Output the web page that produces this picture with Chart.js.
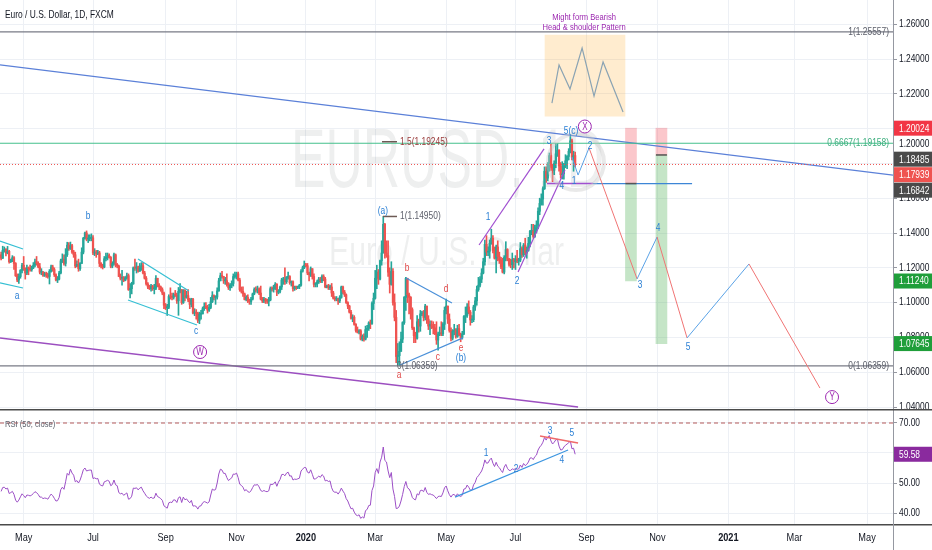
<!DOCTYPE html>
<html>
<head>
<meta charset="utf-8">
<title>EURUSD 1D</title>
<script src="https://cdn.jsdelivr.net/npm/chart.js@4.4.0/dist/chart.umd.min.js"></script>
<style>
  html, body { margin: 0; padding: 0; background: #fff; }
  #wrap { position: relative; width: 932px; height: 550px; overflow: hidden; }
  canvas { position: absolute; left: 0; }
  #main { top: 0; }
  #rsi { top: 409px; }
</style>
</head>
<body>
<div id="wrap">
  <canvas id="main" width="932" height="409" style="width:932px;height:409px"></canvas>
  <canvas id="rsi" width="932" height="141" style="width:932px;height:141px"></canvas>
</div>
<script>
// ---------- data (one bar per trading day, bar 0 = 11 Apr 2019, last bar = 21 Aug 2020) ----------
const monthBars = [14, 57, 102, 146, 189, 232, 276, 319, 363, 407, 451, 492, 537];
const monthLabels = ['May', 'Jul', 'Sep', 'Nov', '2020', 'Mar', 'May', 'Jul', 'Sep', 'Nov', '2021', 'Mar', 'May'];
const priceTicks = [1.04, 1.06, 1.08, 1.10, 1.12, 1.14, 1.16, 1.18, 1.20, 1.22, 1.24, 1.26];
const rsiTicks = [40, 50, 60, 70];

const firstOpen = 1.1275;
const closes = [
  1.1255,1.1300,1.1305,1.1285,1.1295,1.1235,1.1245,1.1258,1.1225,1.1155,1.1130,1.1150,1.1185,1.1215,
  1.1195,1.1170,1.1200,1.1195,1.1190,1.1200,1.1215,1.1235,1.1225,1.1205,1.1175,1.1175,1.1157,1.1165,1.1160,1.1150,1.1180,1.1205,1.1190,1.1160,1.1130,1.1135,1.1170,
  1.1240,1.1250,1.1225,1.1275,1.1330,1.1310,1.1327,1.1290,1.1275,1.1210,1.1220,1.1195,1.1225,1.1290,1.1370,1.1400,1.1365,1.1368,1.1370,1.1372,
  1.1285,1.1290,1.1282,1.1286,1.1225,1.1210,1.1205,1.1252,1.1260,1.1270,1.1260,1.1210,1.1225,1.1275,1.1220,1.1210,1.1150,1.1140,1.1145,1.1128,1.1142,1.1155,1.1075,
  1.1080,1.1108,1.1200,1.1198,1.1205,1.1180,1.1200,1.1212,1.1170,1.1140,1.1107,1.1090,1.1080,1.1095,1.1080,1.1082,1.1140,1.1100,1.1090,1.1075,1.1055,1.0985,
  1.0970,1.0973,1.1035,1.1032,1.1030,1.1045,1.1042,1.1010,1.1065,1.1075,1.1000,1.1070,1.1030,1.1040,1.1015,1.0990,1.1020,1.0940,1.0942,1.0938,1.0898,
  1.0933,1.0935,1.0965,1.0978,1.0970,1.0957,1.0972,1.1005,1.1040,1.1030,1.1032,1.1067,1.1125,1.1155,1.1150,1.1125,1.1126,1.1105,1.1085,1.1100,1.1110,1.1150,1.1152,
  1.1165,1.1130,1.1075,1.1065,1.1050,1.1018,1.1030,1.1010,1.1005,1.1020,1.1050,1.1075,1.1072,1.1078,1.1055,1.1020,1.1010,1.1020,1.1010,1.1008,1.1015,
  1.1080,1.1078,1.1082,1.1105,1.1060,1.1065,1.1090,1.1130,1.1132,1.1120,1.1145,1.1150,1.1115,1.1120,1.1080,1.1090,1.1088,1.1092,1.1100,1.1180,1.1200,1.1215,
  1.1212,1.1170,1.1160,1.1195,1.1150,1.1105,1.1107,1.1120,1.1135,1.1125,1.1150,1.1135,1.1090,1.1095,1.1085,1.1090,1.1055,1.1025,1.1020,1.1022,1.1010,1.1030,1.1090,
  1.1060,1.1045,1.1000,1.0980,1.0945,1.0910,1.0915,1.0875,1.0840,1.0830,1.0838,1.0790,1.0805,1.0790,1.0845,1.0852,1.0883,1.0880,1.0995,1.1025,
  1.1140,1.1175,1.1135,1.1240,1.1285,1.1450,1.1285,1.1270,1.1175,1.1105,1.1180,1.1000,1.0915,1.0690,1.0695,1.0720,1.0790,1.0885,1.1030,1.1140,1.1045,1.1030,
  1.0960,1.0855,1.0810,1.0795,1.0890,1.0865,1.0935,1.0940,1.0915,1.0980,1.0905,1.0865,1.0875,1.0860,1.0855,1.0820,1.0785,1.0820,1.0825,1.0820,1.0875,1.0955,
  1.0980,1.0905,1.0840,1.0795,1.0835,1.0840,1.0805,1.0850,1.0815,1.0800,1.0820,1.0920,1.0925,1.0975,1.0945,1.0900,1.0902,1.0975,1.1010,1.1075,1.1100,
  1.1135,1.1170,1.1235,1.1335,1.1290,1.1295,1.1340,1.1370,1.1300,1.1255,1.1320,1.1265,1.1245,1.1205,1.1175,1.1260,1.1305,1.1250,1.1220,1.1218,1.1245,1.1235,
  1.1250,1.1240,1.1245,1.1310,1.1275,1.1330,1.1285,1.1300,1.1340,1.1410,1.1412,1.1380,1.1430,1.1445,1.1525,1.1570,1.1595,1.1655,1.1755,1.1715,1.1790,1.1845,1.1775,
  1.1760,1.1800,1.1855,1.1875,1.1785,1.1735,1.1740,1.1785,1.1815,1.1840,1.1870,1.1930,1.1835,1.1845,1.1795
];
const highs = [
  1.1290,1.1324,1.1320,1.1310,1.1323,1.1300,1.1250,1.1270,1.1265,1.1230,1.1165,1.1165,1.1190,1.1225,
  1.1265,1.1200,1.1215,1.1205,1.1215,1.1210,1.1230,1.1250,1.1265,1.1235,1.1225,1.1195,1.1180,1.1175,1.1175,1.1170,1.1190,1.1215,1.1215,1.1200,1.1165,1.1150,1.1180,
  1.1250,1.1280,1.1275,1.1310,1.1347,1.1345,1.1348,1.1335,1.1300,1.1290,1.1240,1.1250,1.1230,1.1315,1.1375,1.1405,1.1412,1.1390,1.1390,1.1395,
  1.1385,1.1310,1.1300,1.1300,1.1295,1.1230,1.1220,1.1265,1.1285,1.1285,1.1280,1.1265,1.1235,1.1285,1.1280,1.1225,1.1215,1.1165,1.1185,1.1150,1.1150,1.1170,1.1165,
  1.1110,1.1117,1.1205,1.1250,1.1230,1.1210,1.1225,1.1230,1.1230,1.1180,1.1150,1.1115,1.1100,1.1105,1.1100,1.1105,1.1155,1.1135,1.1110,1.1095,1.1085,1.1060,
  1.0995,1.0990,1.1045,1.1085,1.1055,1.1055,1.1070,1.1055,1.1087,1.1110,1.1035,1.1075,1.1075,1.1065,1.1075,1.1025,1.1025,1.1025,1.0965,1.0960,1.0945,
  1.0945,1.0955,1.0975,1.0999,1.1000,1.0985,1.0990,1.1030,1.1063,1.1045,1.1040,1.1085,1.1140,1.1170,1.1179,1.1150,1.1145,1.1165,1.1115,1.1110,1.1125,1.1165,1.1175,
  1.1175,1.1175,1.1140,1.1090,1.1090,1.1055,1.1040,1.1045,1.1020,1.1030,1.1055,1.1085,1.1090,1.1095,1.1085,1.1095,1.1030,1.1030,1.1025,1.1020,1.1030,
  1.1090,1.1090,1.1100,1.1115,1.1110,1.1075,1.1095,1.1140,1.1145,1.1200,1.1150,1.1175,1.1155,1.1125,1.1125,1.1095,1.1095,1.1095,1.1105,1.1190,1.1210,1.1239,
  1.1225,1.1225,1.1175,1.1205,1.1195,1.1165,1.1115,1.1130,1.1145,1.1145,1.1160,1.1160,1.1145,1.1100,1.1105,1.1100,1.1110,1.1065,1.1035,1.1035,1.1025,1.1040,1.1095,
  1.1095,1.1070,1.1050,1.1005,1.0985,1.0955,1.0930,1.0925,1.0880,1.0860,1.0845,1.0845,1.0815,1.0820,1.0865,1.0870,1.0890,1.0900,1.1005,1.1055,
  1.1185,1.1215,1.1190,1.1245,1.1355,1.1495,1.1455,1.1355,1.1355,1.1200,1.1235,1.1195,1.1050,1.0955,1.0765,1.0775,1.0830,1.0890,1.1035,1.1145,1.1090,1.1055,
  1.1035,1.0970,1.0860,1.0830,1.0925,1.0905,1.0955,1.0950,1.0955,1.0990,1.0980,1.0925,1.0895,1.0895,1.0890,1.0875,1.0890,1.0830,1.0860,1.0890,1.0885,1.0975,
  1.1020,1.0980,1.0935,1.0855,1.0845,1.0875,1.0850,1.0870,1.0875,1.0825,1.0835,1.0925,1.0975,1.0995,1.1010,1.0955,1.0925,1.0985,1.1030,1.1095,1.1145,
  1.1150,1.1195,1.1255,1.1360,1.1385,1.1320,1.1360,1.1422,1.1385,1.1320,1.1330,1.1355,1.1290,1.1260,1.1255,1.1270,1.1350,1.1310,1.1255,1.1250,1.1285,1.1255,
  1.1270,1.1300,1.1255,1.1345,1.1320,1.1340,1.1370,1.1320,1.1375,1.1415,1.1450,1.1450,1.1445,1.1470,1.1545,1.1600,1.1625,1.1665,1.1780,1.1780,1.1805,1.1860,1.1910,
  1.1790,1.1815,1.1915,1.1915,1.1880,1.1805,1.1810,1.1800,1.1850,1.1845,1.1885,1.1966,1.1940,1.1870,1.1865
];
const lows = [
  1.1245,1.1253,1.1290,1.1268,1.1280,1.1226,1.1230,1.1235,1.1190,1.1150,1.1120,1.1110,1.1140,1.1170,
  1.1185,1.1135,1.1160,1.1160,1.1180,1.1180,1.1195,1.1205,1.1215,1.1200,1.1165,1.1160,1.1150,1.1150,1.1145,1.1140,1.1107,1.1175,1.1180,1.1150,1.1125,1.1115,1.1130,
  1.1165,1.1230,1.1215,1.1210,1.1265,1.1300,1.1305,1.1282,1.1260,1.1200,1.1205,1.1180,1.1185,1.1225,1.1280,1.1365,1.1355,1.1345,1.1355,1.1355,
  1.1275,1.1270,1.1260,1.1275,1.1207,1.1200,1.1193,1.1200,1.1240,1.1245,1.1255,1.1200,1.1200,1.1215,1.1205,1.1200,1.1150,1.1130,1.1100,1.1120,1.1125,1.1135,1.1070,
  1.1027,1.1050,1.1105,1.1185,1.1170,1.1175,1.1180,1.1185,1.1165,1.1135,1.1100,1.1080,1.1075,1.1065,1.1070,1.1050,1.1075,1.1090,1.1075,1.1065,1.1045,1.0965,
  1.0960,1.0926,1.0965,1.1020,1.1015,1.1020,1.1035,1.0995,1.0927,1.1055,1.0990,1.0995,1.1010,1.1025,1.1005,1.0965,1.0975,1.0935,1.0925,1.0905,1.0885,
  1.0879,1.0905,1.0935,1.0955,1.0965,1.0940,1.0950,1.0965,1.1000,1.1015,1.0990,1.1020,1.1065,1.1125,1.1140,1.1110,1.1105,1.1095,1.1075,1.1070,1.1085,1.1095,1.1140,
  1.1135,1.1125,1.1065,1.1055,1.1035,1.1015,1.1010,1.1000,1.0990,1.0990,1.1015,1.1045,1.1060,1.1055,1.1045,1.1015,1.1000,1.1000,1.0995,1.0995,1.0981,
  1.1010,1.1065,1.1060,1.1075,1.1040,1.1050,1.1055,1.1075,1.1105,1.1105,1.1110,1.1135,1.1105,1.1095,1.1065,1.1070,1.1075,1.1080,1.1080,1.1095,1.1175,1.1195,
  1.1205,1.1160,1.1125,1.1150,1.1135,1.1090,1.1090,1.1090,1.1110,1.1115,1.1115,1.1125,1.1085,1.1085,1.1075,1.1075,1.1035,1.1020,1.1010,1.1010,1.0990,1.1000,1.1025,
  1.1050,1.1035,1.0995,1.0965,1.0940,1.0905,1.0890,1.0870,1.0830,1.0825,1.0820,1.0785,1.0780,1.0778,1.0785,1.0800,1.0840,1.0850,1.0875,1.0960,
  1.1020,1.1080,1.1105,1.1130,1.1215,1.1310,1.1255,1.1260,1.1150,1.1055,1.1100,1.0985,1.0895,1.0655,1.0640,1.0636,1.0730,1.0770,1.0875,1.0955,1.1000,1.0935,
  1.0905,1.0845,1.0770,1.0770,1.0790,1.0830,1.0835,1.0925,1.0895,1.0900,1.0880,1.0845,1.0815,1.0850,1.0820,1.0815,1.0760,1.0727,1.0810,1.0810,1.0810,1.0845,
  1.0935,1.0880,1.0830,1.0780,1.0785,1.0815,1.0795,1.0800,1.0810,1.0775,1.0790,1.0815,1.0885,1.0915,1.0935,1.0870,1.0885,1.0890,1.0955,1.0985,1.1065,
  1.1090,1.1115,1.1165,1.1215,1.1270,1.1270,1.1255,1.1335,1.1285,1.1250,1.1170,1.1240,1.1225,1.1195,1.1170,1.1165,1.1240,1.1240,1.1210,1.1200,1.1190,1.1200,
  1.1190,1.1230,1.1215,1.1235,1.1260,1.1265,1.1275,1.1255,1.1295,1.1320,1.1390,1.1370,1.1375,1.1400,1.1425,1.1505,1.1560,1.1560,1.1650,1.1690,1.1700,1.1755,1.1760,
  1.1695,1.1735,1.1775,1.1840,1.1755,1.1715,1.1710,1.1710,1.1775,1.1770,1.1820,1.1860,1.1820,1.1755,1.1780
];
// RSI (50, close), one value per bar
const rsi = [
  47.2,48.5,48.6,48.0,48.3,46.5,46.8,47.2,46.2,44.3,43.6,44.3,45.4,46.4,
  45.8,45.1,46.0,45.9,45.7,46.0,46.5,47.1,46.8,46.2,45.3,45.3,44.8,45.0,44.9,44.6,45.5,46.3,45.8,44.9,44.0,44.1,45.2,
  47.8,48.6,47.9,50.4,53.2,52.6,54.6,53.3,52.6,50.4,50.8,50.0,51.0,52.6,54.4,55.0,54.0,54.2,54.3,54.3,
  51.5,51.7,51.4,51.5,49.6,49.2,49.0,50.4,50.6,50.9,50.6,49.1,49.5,51.0,49.4,49.1,46.8,46.4,46.6,45.9,46.3,46.7,44.6,
  44.8,45.6,48.3,48.2,48.4,47.7,48.3,48.6,47.4,46.6,45.7,45.2,44.9,45.3,44.9,45.0,46.6,45.5,45.2,44.8,44.2,42.4,
  42.0,41.6,43.4,43.6,43.5,44.4,44.3,43.5,45.1,45.4,43.5,45.3,44.4,44.7,44.0,43.4,44.2,42.3,42.4,42.2,41.3,
  42.3,42.4,43.4,43.8,43.6,43.3,43.7,46.0,48.0,47.6,47.8,50.0,53.0,54.6,54.3,53.2,53.2,51.8,50.8,51.3,51.7,53.0,52.9,
  53.3,51.8,49.6,49.2,48.6,47.4,47.8,47.1,46.9,47.4,48.5,49.4,49.3,49.5,48.7,47.5,47.2,47.5,47.2,47.1,47.4,
  49.6,49.5,49.7,50.4,48.9,50.3,51.2,52.8,52.9,52.4,53.3,53.6,52.3,52.4,51.0,51.3,51.2,51.4,51.6,54.0,54.6,55.2,
  55.1,53.6,53.3,54.4,52.9,51.3,51.4,51.8,52.3,51.9,52.8,52.3,50.7,50.9,50.5,50.7,48.4,47.2,46.9,47.0,46.3,47.1,48.3,
  47.3,46.5,44.8,44.0,42.6,41.4,41.6,40.3,39.4,39.1,39.4,38.2,38.7,38.3,40.8,41.2,42.5,42.6,47.5,49.0,
  53.5,54.8,53.2,57.0,58.6,62.0,57.5,57.0,54.0,51.8,53.5,48.0,45.5,41.5,41.6,42.3,44.0,46.2,48.8,50.5,48.4,48.0,
  47.0,45.2,44.6,44.4,46.4,46.0,47.5,47.6,47.1,48.5,46.9,46.2,46.4,46.1,46.0,45.4,44.8,45.5,45.6,45.5,46.7,48.4,
  49.0,47.4,46.1,45.3,46.1,46.2,45.5,46.4,45.8,45.5,45.9,48.0,48.1,49.3,48.6,47.6,47.6,49.4,50.2,51.8,52.4,
  53.2,54.0,55.5,57.7,56.6,56.7,57.7,58.3,56.6,55.5,56.9,55.6,55.1,54.2,53.5,55.3,56.2,54.9,54.2,54.2,54.7,54.5,
  54.8,54.6,54.7,56.0,55.2,56.5,55.8,56.2,57.0,58.3,58.4,57.8,58.8,59.3,61.0,62.0,62.6,63.6,65.2,64.3,65.3,65.8,64.0,
  63.0,63.6,64.4,64.6,62.3,61.0,61.1,62.0,62.6,63.0,63.4,64.0,61.4,61.6,59.58
];

// ---------- drawings, in (bar, price) ----------
const trendLine = [[-0.7, 1.2366], [553.1, 1.1733]];
const baseLine = [[-0.7, 1.0797], [357.8, 1.0400]];
const wedgeLines = [
  [[-0.7, 1.1354], [13.6, 1.1308]], [[-0.7, 1.1113], [13.6, 1.1084]],
  [[84.9, 1.1251], [116.5, 1.1067]], [[78.7, 1.1015], [121.5, 1.0871]]
];
const triangleLines = [[[251.1, 1.1141], [279.6, 1.0998]], [[247.4, 1.0641], [286.4, 1.0797]]];
const channelLines = [[[296.4, 1.1331], [336.7, 1.1883]], [[320.6, 1.1176], [349.7, 1.1762]]];
const fibTop = 1.25557, fibMid = 1.19158, fibBottom = 1.06359;
const fibShort = [[[236.8, 1.14950], [245.5, 1.14950]], [[236.2, 1.19245], [245.5, 1.19245]]];
const lastPrice = 1.17939;
const supportLevel = 1.16842;
const supportPurple = [338.5, 367];
const supportBlue = [367, 428.5];
const projection = [[354, 1.1837], [357.8, 1.1733], [364.6, 1.1889], [394.4, 1.1136], [406.8, 1.1377],
                    [425.4, 1.0797], [463.8, 1.1222], [507.8, 1.0509]];
const positions = [
  { bar: 390.6, stop: 1.20024, entry: 1.16842, target: 1.11240 },
  { bar: 409.5, stop: 1.20024, entry: 1.18485, target: 1.07645 }
];
const hsBox = { bar: 362.1, low: 1.2072, high: 1.2538 };
const hsShape = [[341.6, 1.2147], [346.0, 1.2366], [352.8, 1.2228], [360.3, 1.2463], [367.7, 1.2187], [373.3, 1.2383], [385.7, 1.2095]];
const hsText = [['Might form Bearish', 361.5, 1.2641], ['Head & shoulder Pattern', 361.5, 1.2584]];
const waveLabels = [
  ['a', 9.9, 1.1038, 'blue'], ['b', 53.9, 1.1498, 'blue'], ['c', 120.9, 1.0837, 'blue'],
  ['(a)', 236.8, 1.1526, 'blue'], ['b', 251.7, 1.1199, 'red'], ['d', 275.9, 1.1078, 'red'],
  ['c', 270.9, 1.0687, 'red'], ['a', 246.8, 1.0584, 'red'], ['e', 285.2, 1.0739, 'red'], ['(b)', 285.2, 1.0682, 'blue'],
  ['1', 302.0, 1.1492, 'blue'], ['2', 320.0, 1.1124, 'blue'], ['3', 339.8, 1.1929, 'blue'], ['4', 347.8, 1.1670, 'blue'],
  ['5(c)', 353.4, 1.1986, 'blue'], ['1', 355.3, 1.1699, 'blue'], ['2', 365.2, 1.1900, 'blue'],
  ['3', 396.2, 1.1101, 'blue'], ['4', 407.4, 1.1429, 'blue'], ['5', 426.0, 1.0745, 'blue']
];
const circleLabels = [['W', 123.4, 1.0716], ['X', 362.0, 1.2012], ['Y', 515.3, 1.0457]];
const fibTexts = [
  ['1(1.14950)', 247.4, 1.14950, 'left', 'gray'], ['0(1.06359)', 245.5, 1.06359, 'left', 'gray'],
  ['1.5(1.19245)', 247.4, 1.19245, 'left', 'brown'],
  ['1(1.25557)', 550.6, 1.25557, 'right', 'gray'], ['0(1.06359)', 550.6, 1.06359, 'right', 'gray'],
  ['0.6667(1.19158)', 550.6, 1.19158, 'right', 'green']
];
const priceTags = [1.20024, 1.20000, 1.18485, 1.17939, 1.16842, 1.11240, 1.07645];
const rsiUpLine = [[281.5, 45.3], [351.6, 61.0]];
const rsiTopLine = [[334.2, 65.7], [357.8, 63.3]];
const rsiWaves = [['1', 300.7, 60.0], ['2', 319.3, 54.7], ['3', 340.4, 67.3], ['4', 347.8, 57.7], ['5', 354.0, 66.7]];

// ---------- styles ----------
const FONT = '"Liberation Sans", Arial, sans-serif';
const SQUEEZE = 0.8;   // the reference uses a narrow face; squeeze regular text horizontally
const GRID = '#edf0f5';
const INK = '#131722';
const UP = '#26a69a', DOWN = '#ef5350';
const TEXT_COLORS = { blue: '#2a7fd4', red: '#e04848', gray: '#5d606b', brown: '#9a3b3b', green: '#3dae7e' };
const TAG_STYLE = {
  1.20024: ['#f23645', '#fff'], 1.2: ['#ffffff', INK], 1.18485: ['#4a4a4a', '#fff'],
  1.17939: ['#ef5350', '#fff'], 1.16842: ['#4a4a4a', '#fff'], 1.1124: ['#1f9e3a', '#fff'], 1.07645: ['#1f9e3a', '#fff']
};
const X_MIN = -0.68, X_MAX = 553.1;
const PRICE_MIN = 1.04 - 2 / 1740, PRICE_MAX = 1.04 + 407 / 1740;
const RSI_MIN = 70 - 101 / 3, RSI_MAX = 70 + 13 / 3;

Chart.defaults.font.family = FONT;
Chart.defaults.font.size = 10;
Chart.defaults.color = INK;

const pts = arr => arr.map(([x, y]) => ({ x, y }));
function line(points, color, width = 1, dash = [], order = 5) {
  return { type: 'line', data: pts(points), borderColor: color, borderWidth: width, borderDash: dash,
           pointRadius: 0, fill: false, tension: 0, order };
}
function hline(value, color, width = 1, dash = [], from = X_MIN, to = X_MAX) {
  return line([[from, value], [to, value]], color, width, dash);
}

// narrow text: draw with a horizontal squeeze around the anchor point
function say(ctx, text, x, y, size, color, align = 'center', weight = 'normal') {
  ctx.save();
  ctx.font = `${weight} ${size}px ${FONT}`;
  ctx.fillStyle = color;
  ctx.textAlign = align;
  ctx.textBaseline = 'middle';
  ctx.translate(x, y);
  ctx.scale(SQUEEZE, 1);
  ctx.fillText(text, 0, 0);
  ctx.restore();
}

function timeAxis(showLabels) {
  return {
    type: 'linear', min: X_MIN, max: X_MAX, offset: false,
    afterBuildTicks: s => { s.ticks = monthBars.map(v => ({ value: v })); },
    afterFit: s => { s.height = showLabels ? 26 : 0; s.paddingLeft = 0; s.paddingRight = 0; },
    grid: { color: GRID, drawTicks: false, offset: false },
    border: { display: false },
    ticks: { display: false }
  };
}
function valueAxis(min, max, ticks) {
  return {
    type: 'linear', position: 'right', min, max,
    afterBuildTicks: s => { s.ticks = ticks.map(v => ({ value: v })); },
    afterFit: s => { s.width = 39; s.paddingTop = 0; s.paddingBottom = 0; },
    grid: { color: GRID, tickColor: '#9598a1', tickLength: 4 },
    border: { color: '#9598a1' },
    ticks: { display: false }
  };
}
function drawAxisLabels(ctx, scale, values, digits) {
  values.forEach(v => say(ctx, v.toFixed(digits), scale.left + 6, scale.getPixelForValue(v), 10.5, INK, 'left'));
}

function stretchText(ctx, text, cx, cy, size, width) {
  ctx.font = size + 'px ' + FONT;
  const w = ctx.measureText(text).width;
  ctx.save();
  ctx.translate(cx, cy);
  ctx.scale(width / w, 1);
  ctx.fillText(text, 0, 0);
  ctx.restore();
}
function tag(ctx, left, y, text, bg, fg) {
  ctx.fillStyle = bg;
  ctx.fillRect(left, y - 7.5, 932 - left, 15);
  say(ctx, text, left + 5, y + 0.5, 10.5, fg, 'left');
}

// ---------- main price pane ----------
const opens = closes.map((c, i) => (i === 0 ? firstOpen : closes[i - 1]));
const candleColors = closes.map((c, i) => (c >= opens[i] ? UP : DOWN));

const mainDecor = {
  id: 'mainDecor',
  beforeDatasetsDraw(chart) {
    const { ctx, chartArea: a } = chart;
    const cx = (a.left + a.right) / 2;
    ctx.save();
    ctx.fillStyle = 'rgba(19, 23, 34, 0.07)';
    ctx.textAlign = 'center';
    ctx.textBaseline = 'middle';
    stretchText(ctx, 'EURUSD, 1D', cx + 1, 164, 84, 313);
    stretchText(ctx, 'Euro / U.S. Dollar', cx, 254, 40, 235);
    ctx.restore();
  },
  afterDatasetsDraw(chart) {
    const { ctx } = chart;
    const sx = chart.scales.x, sy = chart.scales.y;
    const X = v => sx.getPixelForValue(v), Y = v => sy.getPixelForValue(v);
    ctx.save();
    // highlight ring around the last swing
    ctx.strokeStyle = 'rgba(200, 200, 200, 0.4)';
    ctx.lineWidth = 4;
    ctx.beginPath();
    ctx.arc(X(356.5), Y(1.1808), 28, 0, Math.PI * 2);
    ctx.stroke();

    fibTexts.forEach(([t, b, p, align, c]) => say(ctx, t, X(b), Y(p), 10.5, TEXT_COLORS[c], align));
    waveLabels.forEach(([t, b, p, c]) => say(ctx, t, X(b), Y(p), 10.5, TEXT_COLORS[c]));
    circleLabels.forEach(([t, b, p]) => {
      const x = X(b), y = Y(p);
      ctx.strokeStyle = '#9c27b0';
      ctx.lineWidth = 1;
      ctx.fillStyle = 'rgba(255,255,255,0.8)';
      ctx.beginPath();
      ctx.arc(x, y, 6.5, 0, Math.PI * 2);
      ctx.fill();
      ctx.stroke();
      say(ctx, t, x, y + 0.5, 10, '#9c27b0');
    });
    hsText.forEach(([t, b, p]) => say(ctx, t, X(b), Y(p), 9.5, '#9c27b0'));
    ctx.restore();
  },
  afterDraw(chart) {
    const { ctx } = chart;
    const sy = chart.scales.y;
    say(ctx, 'Euro / U.S. Dollar, 1D, FXCM', 5, 15, 10.5, INK, 'left');
    drawAxisLabels(ctx, sy, priceTicks, 5);
    // price tags on the axis, pushed down when they overlap
    let prev = -Infinity;
    priceTags.slice().sort((a, b) => b - a).forEach(v => {
      let y = sy.getPixelForValue(v);
      if (y < prev + 15.5) y = prev + 15.5;
      prev = y;
      const [bg, fg] = TAG_STYLE[v];
      tag(ctx, sy.left + 1, y, v.toFixed(5), bg, fg);
    });
  }
};

const projectionDs = line(projection, '#5aa2e6', 1, [], 4);
projectionDs.segment = {
  borderColor: c => (c.p0DataIndex >= 2 && c.p1.y > c.p0.y ? '#f07474' : '#5aa2e6')
};

const mainDatasets = [
  ...fibShort.map(s => line(s, '#6d5a55', 1.5)),
  hline(fibTop, '#787b86', 1.2),
  hline(fibBottom, '#787b86', 1.2),
  hline(fibMid, '#45c08c', 1.2),
  hline(lastPrice, '#ef5350', 1, [1, 2]),
  line(trendLine, '#5b80d8', 1.2),
  line(baseLine, '#9c4fc0', 1.5),
  ...wedgeLines.map(s => line(s, '#35bfd3', 1.2)),
  ...triangleLines.map(s => line(s, '#4a90d9', 1.2)),
  ...channelLines.map(s => line(s, '#a04fd0', 1.2)),
  hline(supportLevel, '#a04fd0', 1.5, [], supportPurple[0], supportPurple[1]),
  hline(supportLevel, '#3d86d6', 1.2, [], supportBlue[0], supportBlue[1]),
  projectionDs,
  line(hsShape, '#8aa3b3', 1.2, [], 4),
  ...positions.map(p => line([[p.bar - 3.4, p.entry], [p.bar + 3.4, p.entry]], '#555', 1.5, [], 4)),
  {
    type: 'bar', label: 'bodies', order: 19, grouped: false, barThickness: 1.6, minBarLength: 1,
    data: closes.map((c, i) => ({ x: i, y: [opens[i], c] })),
    backgroundColor: candleColors, borderWidth: 0
  },
  {
    type: 'bar', label: 'wicks', order: 20, grouped: false, barThickness: 1,
    data: closes.map((c, i) => ({ x: i, y: [Math.min(lows[i], opens[i], c), Math.max(highs[i], opens[i], c)] })),
    backgroundColor: candleColors, borderWidth: 0
  },
  {
    type: 'bar', label: 'risk', order: 25, grouped: false, barThickness: 11,
    data: positions.map(p => ({ x: p.bar, y: [p.entry, p.stop] })),
    backgroundColor: 'rgba(242, 54, 69, 0.28)', borderWidth: 0
  },
  {
    type: 'bar', label: 'reward', order: 25, grouped: false, barThickness: 11,
    data: positions.map(p => ({ x: p.bar, y: [p.target, p.entry] })),
    backgroundColor: 'rgba(76, 175, 80, 0.32)', borderWidth: 0
  },
  {
    type: 'bar', label: 'pattern', order: 30, grouped: false, barThickness: 80,
    data: [{ x: hsBox.bar, y: [hsBox.low, hsBox.high] }],
    backgroundColor: 'rgba(255, 167, 38, 0.22)', borderWidth: 0
  }
];

new Chart(document.getElementById('main'), {
  type: 'bar',
  data: { datasets: mainDatasets },
  options: {
    responsive: false, animation: false, events: [],
    layout: { padding: 0 },
    plugins: { legend: { display: false }, tooltip: { enabled: false } },
    scales: {
      x: timeAxis(false),
      y: valueAxis(PRICE_MIN, PRICE_MAX, priceTicks)
    }
  },
  plugins: [mainDecor]
});

// ---------- RSI pane ----------
const rsiDecor = {
  id: 'rsiDecor',
  afterDatasetsDraw(chart) {
    const { ctx } = chart;
    const sx = chart.scales.x, sy = chart.scales.y;
    rsiWaves.forEach(([t, b, v]) => say(ctx, t, sx.getPixelForValue(b), sy.getPixelForValue(v), 10.5, TEXT_COLORS.blue));
  },
  afterDraw(chart) {
    const { ctx, chartArea: a } = chart;
    const sx = chart.scales.x, sy = chart.scales.y;
    ctx.save();
    ctx.strokeStyle = '#4a4a4a';
    ctx.lineWidth = 1.5;
    ctx.beginPath();
    ctx.moveTo(0, 0.75); ctx.lineTo(932, 0.75);
    ctx.moveTo(0, a.bottom + 0.75); ctx.lineTo(932, a.bottom + 0.75);
    ctx.stroke();
    ctx.strokeStyle = '#9598a1';
    ctx.lineWidth = 1;
    ctx.beginPath();
    ctx.moveTo(a.right + 0.5, a.bottom); ctx.lineTo(a.right + 0.5, 141);
    ctx.stroke();
    ctx.restore();
    say(ctx, 'RSI (50, close)', 5, 15, 9.5, '#5d606b', 'left');
    drawAxisLabels(ctx, sy, rsiTicks, 2);
    monthBars.forEach((b, i) => {
      const bold = /^\d{4}$/.test(monthLabels[i]);
      say(ctx, monthLabels[i], sx.getPixelForValue(b), a.bottom + 14, 11.5, INK, 'center', bold ? 'bold' : 'normal');
    });
    const last = rsi[rsi.length - 1];
    tag(ctx, sy.left + 1, sy.getPixelForValue(last), last.toFixed(2), '#8a2a9e', '#fff');
  }
};

new Chart(document.getElementById('rsi'), {
  type: 'line',
  data: {
    datasets: [
      line(rsiUpLine, '#3d96e0', 1.2, [], 2),
      line(rsiTopLine, '#ef6a6a', 1.5, [], 2),
      hline(70, '#b45a5a', 1, [4, 3]),
      {
        type: 'line', data: rsi.map((v, i) => ({ x: i, y: v })), borderColor: '#9c4fc6',
        borderWidth: 1, pointRadius: 0, tension: 0, fill: false, order: 8
      }
    ]
  },
  options: {
    responsive: false, animation: false, events: [],
    layout: { padding: { top: 1, left: 0, right: 0, bottom: 0 } },
    plugins: { legend: { display: false }, tooltip: { enabled: false } },
    scales: {
      x: timeAxis(true),
      y: valueAxis(RSI_MIN, RSI_MAX, rsiTicks)
    }
  },
  plugins: [rsiDecor]
});
</script>
</body>
</html>
